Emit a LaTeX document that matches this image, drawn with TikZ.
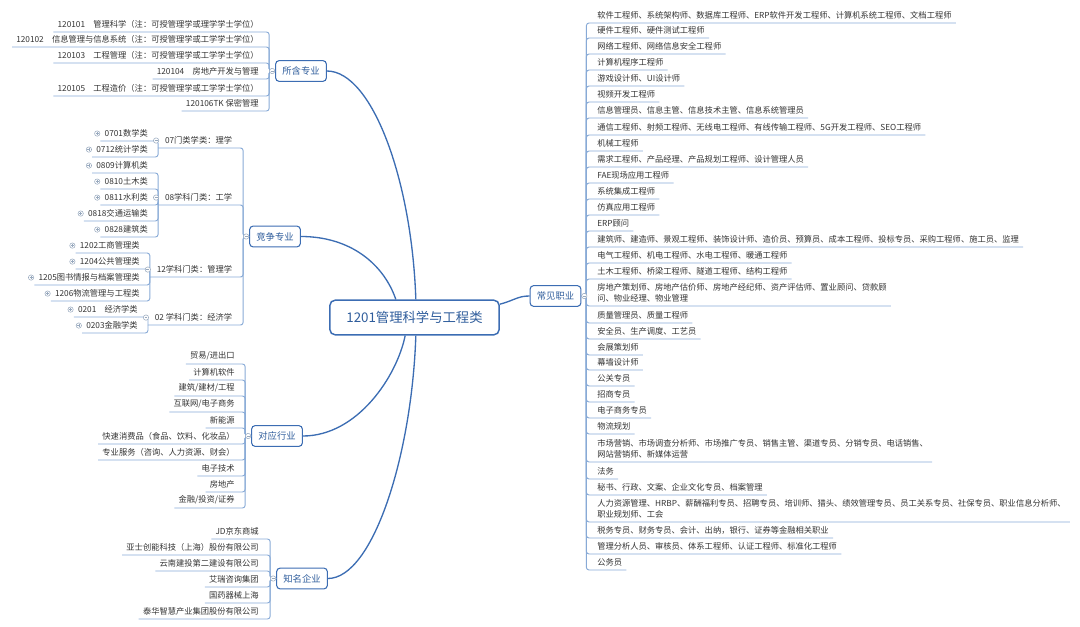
\documentclass[tikz,border=0pt]{standalone}
\usepackage{fontspec}
\setmainfont{Noto Sans CJK SC}
\usetikzlibrary{positioning, calc}
\definecolor{mapblue}{HTML}{3C6DB3}
\definecolor{maptext}{HTML}{2F5D9C}
\definecolor{mapline}{HTML}{88AAD6}
\definecolor{mapgray}{HTML}{333333}
\definecolor{mapknob}{HTML}{98A9BE}
\tikzset{
  minusknob/.pic={\draw[mapknob, fill=white, line width=0.4pt] (0,0) circle (2pt); \draw[mapknob, line width=0.4pt] (-1.1pt,0) -- (1.1pt,0);},
  plusknob/.pic={\draw[mapknob, fill=white, line width=0.4pt] (0,0) circle (2pt); \draw[mapknob, line width=0.4pt] (-1.1pt,0) -- (1.1pt,0) (0,-1.1pt) -- (0,1.1pt);}
}

\begin{document}
\begin{tikzpicture}[
    x=0.75pt, y=-0.75pt,
    root/.style={rectangle, draw=mapblue, line width=1.1pt, rounded corners=4pt, fill=white, text=maptext, font=\fontsize{10}{12}\selectfont, minimum width=127pt, minimum height=26pt},
    branch/.style={rectangle, draw=mapblue, line width=0.8pt, rounded corners=2.5pt, fill=white, text=maptext, font=\fontsize{7}{8}\selectfont, minimum height=15.5pt, inner xsep=5pt},
    leaf/.style={text=mapgray, font=\fontsize{6.2}{8.2}\selectfont, inner xsep=3pt, inner ysep=2.5pt},
    leafl/.style={leaf, anchor=south east},
    leafr/.style={leaf, anchor=south west, align=left},
    midl/.style={leafl, inner xsep=5pt},
    trunk/.style={draw=mapblue, line width=1pt},
    twig/.style={draw=mapline, line width=0.7pt, rounded corners=2pt}
]
\useasboundingbox (0,0) rectangle (1080,627);

% centre and main branches
\node[root] (root) at (414.5,317.5) {1201管理科学与工程类};
\node[branch] (zy) at (301,71) {所含专业};
\node[branch] (jz) at (275,236.5) {竞争专业};
\node[branch] (hy) at (277,436) {对应行业};
\node[branch] (qy) at (302,578.5) {知名企业};
\node[branch] (zhiye) at (555.5,296) {常见职业};

\draw[trunk] (zy.east) .. controls +(45,0) and +(-4,-120) .. ([xshift=1pt]root.north);
\draw[trunk] (jz.east) .. controls +(50,0) and +(-12,-35) .. ([xshift=-14pt]root.north);
\draw[trunk] (hy.east) .. controls +(55,0) and +(-8,40) .. ([xshift=-7pt]root.south);
\draw[trunk] (qy.east) .. controls +(45,0) and +(-4,120) .. ([xshift=1pt]root.south);
\draw[trunk] ([yshift=10pt]root.east) .. controls +(15,-4) and +(-12,0) .. (zhiye.west);

% 所含专业
\foreach \yy/\txt [count=\i] in {32/{120101\quad 管理科学（注：可授管理学或理学学士学位）},
    47/{120102\quad 信息管理与信息系统（注：可授管理学或工学学士学位）},
    63/{120103\quad 工程管理（注：可授管理学或工学学士学位）},
    79/{120104\quad 房地产开发与管理},
    96/{120105\quad 工程造价（注：可授管理学或工学学士学位）},
    111/{120106TK 保密管理}}{
  \node[leafl] (zy\i) at (263,\yy) {\txt};
  \draw[twig] (zy.west) -- ++(-6,0) |- (zy\i.south east) -- (zy\i.south west);
}
\pic at ([xshift=-2.2pt]zy.west) {minusknob};

% 竞争专业
\foreach \pn/\yy/\txt in {p07/148/{07门类学类：理学}, p08/205/{08学科门类：工学},
    p12/277/{12学科门类：管理学}, p02/325/{02 学科门类：经济学}}{
  \node[midl] (\pn) at (239,\yy) {\txt};
  \draw[twig] (jz.west) -- ++(-6,0) |- (\pn.south east) -- (\pn.south west);
}
\foreach \pn/\dy/\txt [count=\i] in {p07/-7/{0701数学类}, p07/9/{0712统计学类},
    p08/-32/{0809计算机类}, p08/-16/{0810土木类}, p08/0/{0811水利类}, p08/16/{0818交通运输类}, p08/32/{0828建筑类},
    p12/-24/{1202工商管理类}, p12/-8/{1204公共管理类}, p12/8/{1205图书情报与档案管理类}, p12/24/{1206物流管理与工程类},
    p02/-8/{0201\quad 经济学类}, p02/8/{0203金融学类}}{
  \node[leafl] (jz\i) at ($(\pn.south west)+(-6,\dy)$) {\txt};
  \draw[twig] (\pn.south west) |- (jz\i.south east) -- (jz\i.south west);
  \pic at ([xshift=-2.4pt]jz\i.west) {plusknob};
}
\foreach \pn in {p07,p08,p12,p02} \pic at ([xshift=-1.5pt]\pn.west) {minusknob};
\pic at ([xshift=-2.2pt]jz.west) {minusknob};

% 对应行业
\foreach \yy/\txt [count=\i] in {364/{贸易/进出口}, 380/{计算机软件}, 396/{建筑/建材/工程},
    412/{互联网/电子商务}, 428/{新能源}, 444/{快速消费品（食品、饮料、化妆品）},
    460/{专业服务（咨询、人力资源、财会）}, 476/{电子技术}, 492/{房地产}, 508/{金融/投资/证券}}{
  \node[leafl] (hy\i) at (239,\yy) {\txt};
  \draw[twig] (hy.west) -- ++(-6,0) |- (hy\i.south east) -- (hy\i.south west);
}
\pic at ([xshift=-2.2pt]hy.west) {minusknob};

% 知名企业
\foreach \yy/\txt [count=\i] in {539/{JD京东商城}, 555/{亚士创能科技（上海）股份有限公司},
    571/{云南建投第二建设有限公司}, 587/{艾瑞咨询集团}, 603/{国药器械上海},
    619/{泰华智慧产业集团股份有限公司}}{
  \node[leafl] (qy\i) at (263,\yy) {\txt};
  \draw[twig] (qy.west) -- ++(-6,0) |- (qy\i.south east) -- (qy\i.south west);
}
\pic at ([xshift=-2.2pt]qy.west) {minusknob};

% 常见职业
\foreach \yy/\txt [count=\i] in {23/{软件工程师、系统架构师、数据库工程师、ERP软件开发工程师、计算机系统工程师、文档工程师},
    38/{硬件工程师、硬件测试工程师}, 54/{网络工程师、网络信息安全工程师}, 70/{计算机程序工程师},
    86/{游戏设计师、UI设计师}, 102/{视频开发工程师}, 118/{信息管理员、信息主管、信息技术主管、信息系统管理员},
    135/{通信工程师、射频工程师、无线电工程师、有线传输工程师、5G开发工程师、SEO工程师},
    151/{机械工程师}, 167/{需求工程师、产品经理、产品规划工程师、设计管理人员}, 183/{FAE现场应用工程师},
    199/{系统集成工程师}, 215/{仿真应用工程师}, 231/{ERP顾问},
    247/{建筑师、建造师、景观工程师、装饰设计师、造价员、预算员、成本工程师、投标专员、采购工程师、施工员、监理},
    263/{电气工程师、机电工程师、水电工程师、暖通工程师}, 279/{土木工程师、桥梁工程师、隧道工程师、结构工程师},
    306/{房地产策划师、房地产估价师、房地产经纪师、资产评估师、置业顾问、贷款顾\\问、物业经理、物业管理},
    323/{质量管理员、质量工程师}, 339/{安全员、生产调度、工艺员}, 355/{会展策划师}, 370/{幕墙设计师},
    386/{公关专员}, 402/{招商专员}, 418/{电子商务专员}, 434/{物流规划},
    462/{市场营销、市场调查分析师、市场推广专员、销售主管、渠道专员、分销专员、电话销售、\\网站营销师、新媒体运营},
    479/{法务}, 495/{秘书、行政、文案、企业文化专员、档案管理},
    522/{人力资源管理、HRBP、薪酬福利专员、招聘专员、培训师、猎头、绩效管理专员、员工关系专员、社保专员、职业信息分析师、\\职业规划师、工会},
    538/{税务专员、财务专员、会计、出纳，银行、证券等金融相关职业},
    554/{管理分析人员、审核员、体系工程师、认证工程师、标准化工程师}, 570/{公务员}}{
  \node[leafr] (zhiye\i) at (593,\yy) {\txt};
  \draw[twig] (zhiye.east) -- ++(5,0) |- (zhiye\i.south west) -- (zhiye\i.south east);
}
\pic at ([xshift=2.2pt]zhiye.east) {minusknob};

\end{tikzpicture}
\end{document}
